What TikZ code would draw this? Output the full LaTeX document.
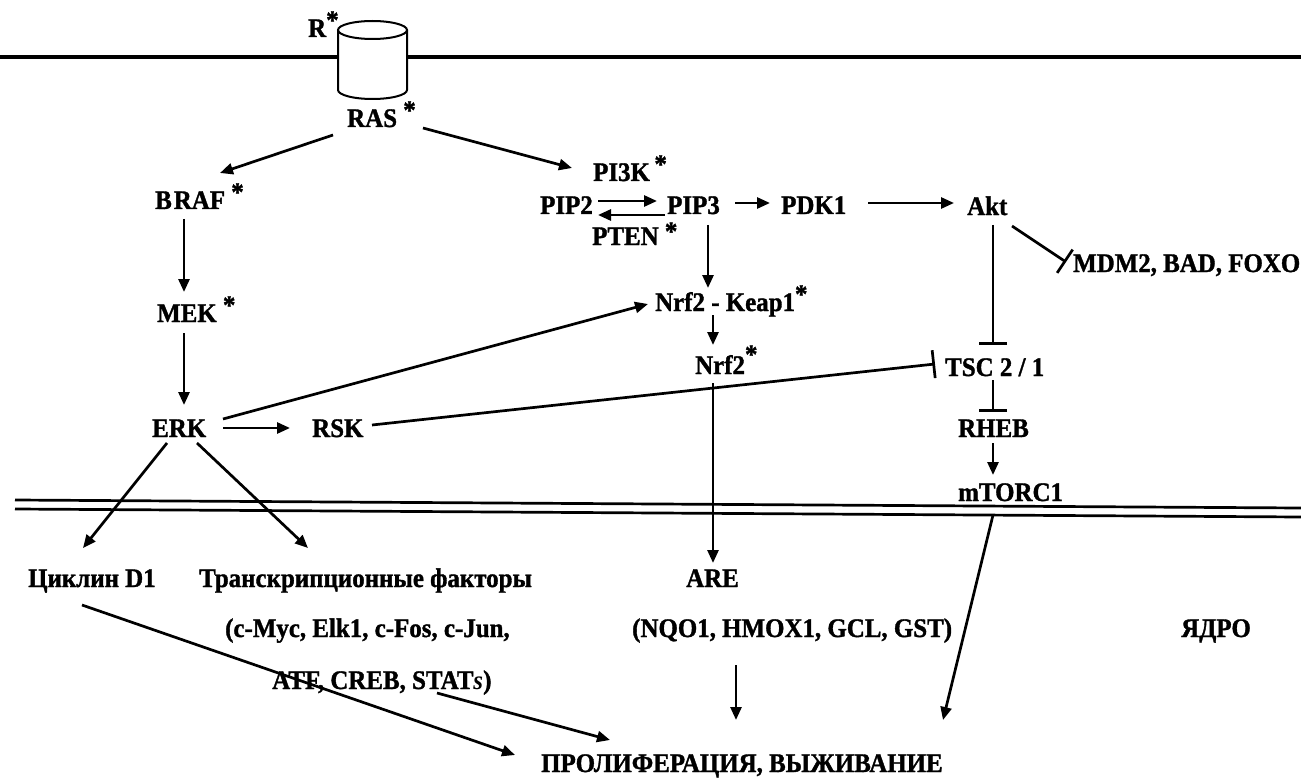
\documentclass[tikz,border=0pt]{standalone}
\usepackage{fontspec}
\setmainfont{Liberation Serif}[FakeStretch=0.93,BoldFeatures={FakeBold=1.3}]
\usetikzlibrary{arrows.meta,calc}
\newcommand\myast{\raisebox{0.3em}{*}}
\tikzset{
  lbl/.style={inner sep=0pt, anchor=base west, font=\fontsize{26.8}{30}\selectfont\bfseries},
  act/.style={line width=2.7pt, -{Triangle[length=13pt,width=11pt]}},
  inh/.style={line width=2.7pt, -{Bar[width=28pt,line width=2.7pt]}},
  cyl/.style={line width=2pt},
  memb/.style={line width=3.5pt}
}
\begin{document}
\begin{tikzpicture}[x=1pt,y=-1pt]
\useasboundingbox[fill=white] (0,0) rectangle (1301,778);
% membranes
\draw[memb] (0,57) -- (338,57);
\draw[memb] (407,57) -- (1301,57);
\draw[line width=2.7pt] (15,500) -- (1301,508);
\draw[line width=2.7pt] (15,509) -- (1301,517);
% receptor
\fill[white] (338,30) rectangle (407,90);
\draw[cyl] (338,30) -- (338,90) arc[start angle=180,end angle=360,x radius=34.5pt,y radius=9pt] -- (407,30);
\draw[cyl] (372.5,30) ellipse[x radius=34.5pt,y radius=9pt];
% nodes
\node[lbl] (r) at (308,37) {R\myast};
\node[lbl] (ras) at (347,127) {RAS\ \myast};
\node[lbl] (braf) at (155,209) {B\kern2ptRAF\ \myast};
\node[lbl] (mek) at (157,322) {MEK\ \myast};
\node[lbl] (erk) at (152,437) {ERK};
\node[lbl] (rsk) at (312,437) {RSK};
\node[lbl] (pi3k) at (593,181) {PI3K\,\myast};
\node[lbl] (pip2) at (540,214) {PIP2};
\node[lbl] (pip3) at (667,214) {PIP3};
\node[lbl] (pdk1) at (781,214) {PDK1};
\node[lbl] (akt) at (967,215) {Akt};
\node[lbl] (pten) at (592,245) {PTEN\ \raisebox{0.18em}{*}};
\node[lbl] (mdm2) at (1073,272) {MDM2, BAD, FOXO};
\node[lbl] (nk) at (655,311) {Nrf2 - Keap1\myast};
\node[lbl] (nrf2) at (695,374) {Nrf2\raisebox{0.4em}{*}};
\node[lbl] (tsc) at (945,376) {TSC 2 / 1};
\node[lbl] (rheb) at (958,437) {RHEB};
\node[lbl] (mtor) at (958,501) {mTORC1};
\node[lbl] (cyc) at (28,587) {Циклин D1};
\node[lbl] (tf) at (199,587) {Транскрипционные факторы};
\node[lbl] (tf1) at (225,637) {(c-Myc, Elk1, c-Fos, c-Jun,};
\node[lbl] (tf2) at (272,689) {ATF, CREB, STAT\textit{s})};
\node[lbl] (are) at (686,587) {ARE};
\node[lbl] (nqo) at (632,637) {(NQO1, HMOX1, GCL, GST)};
\node[lbl] (nuc) at (1181,637) {ЯДРО};
\node[lbl] (prol) at (541,772) {ПРОЛИФЕРАЦИЯ, ВЫЖИВАНИЕ};
% connectors
\draw[act] ($(ras.base west)+(-14,8)$) -- ($(braf.base west)+(65,-36)$);
\draw[act] ($(ras.base west)+(76,1)$) -- ($(pi3k.base west)+(-21,-13)$);
\draw[act] ($(braf.base west)+(29,10)$) -- ($(mek.base west)+(27,-30)$);
\draw[act] ($(mek.base west)+(27,11)$) -- ($(erk.base west)+(32,-32)$);
\draw[act] ($(erk.base west)+(71,-9)$) -- ($(rsk.base west)+(-22,-9)$);
\draw[act] ($(erk.base west)+(71,-18)$) -- ($(nk.base west)+(-7,-7)$);
\draw[inh] ($(rsk.base west)+(60,-12)$) -- ($(tsc.base west)+(-10,-12)$);
\draw[act] ($(pip2.base west)+(58,-13)$) -- ($(pip3.base west)+(-10,-13)$);
\draw[act] ($(pip3.base west)+(-2,1)$) -- ($(pip2.base west)+(58,1)$);
\draw[act] ($(pip3.base west)+(68,-11)$) -- ($(pdk1.base west)+(-11,-11)$);
\draw[act] ($(pdk1.base west)+(87,-11)$) -- ($(akt.base west)+(-13,-12)$);
\draw[inh] ($(akt.base west)+(45,11)$) -- ($(mdm2.base west)+(-7,-10)$);
\draw[inh] ($(akt.base west)+(26,10)$) -- ($(tsc.base west)+(48,-31)$);
\draw[act] ($(pip3.base west)+(41,11)$) -- ($(nk.base west)+(53,-23)$);
\draw[act] ($(nk.base west)+(58,4)$) -- ($(nrf2.base west)+(18,-29)$);
\draw[act] ($(nrf2.base west)+(18,9)$) -- ($(are.base west)+(27,-24)$);
\draw[inh] ($(tsc.base west)+(48,4)$) -- ($(rheb.base west)+(35,-25)$);
\draw[act] ($(rheb.base west)+(35,6)$) -- ($(mtor.base west)+(35,-26)$);
\draw[act] ($(erk.base west)+(15,6)$) -- ($(cyc.base west)+(55,-39)$);
\draw[act] ($(erk.base west)+(45,6)$) -- ($(tf.base west)+(109,-39)$);
\draw[act] ($(cyc.base west)+(54,18)$) -- ($(prol.base west)+(-26,-17)$);
\draw[act] ($(tf2.base west)+(165,4)$) -- ($(prol.base west)+(69,-32)$);
\draw[act] ($(nqo.base west)+(104,28)$) -- ($(prol.base west)+(195,-52)$);
\draw[act] ($(mtor.base west)+(35,14)$) -- ($(prol.base west)+(402,-52)$);
\end{tikzpicture}
\end{document}
